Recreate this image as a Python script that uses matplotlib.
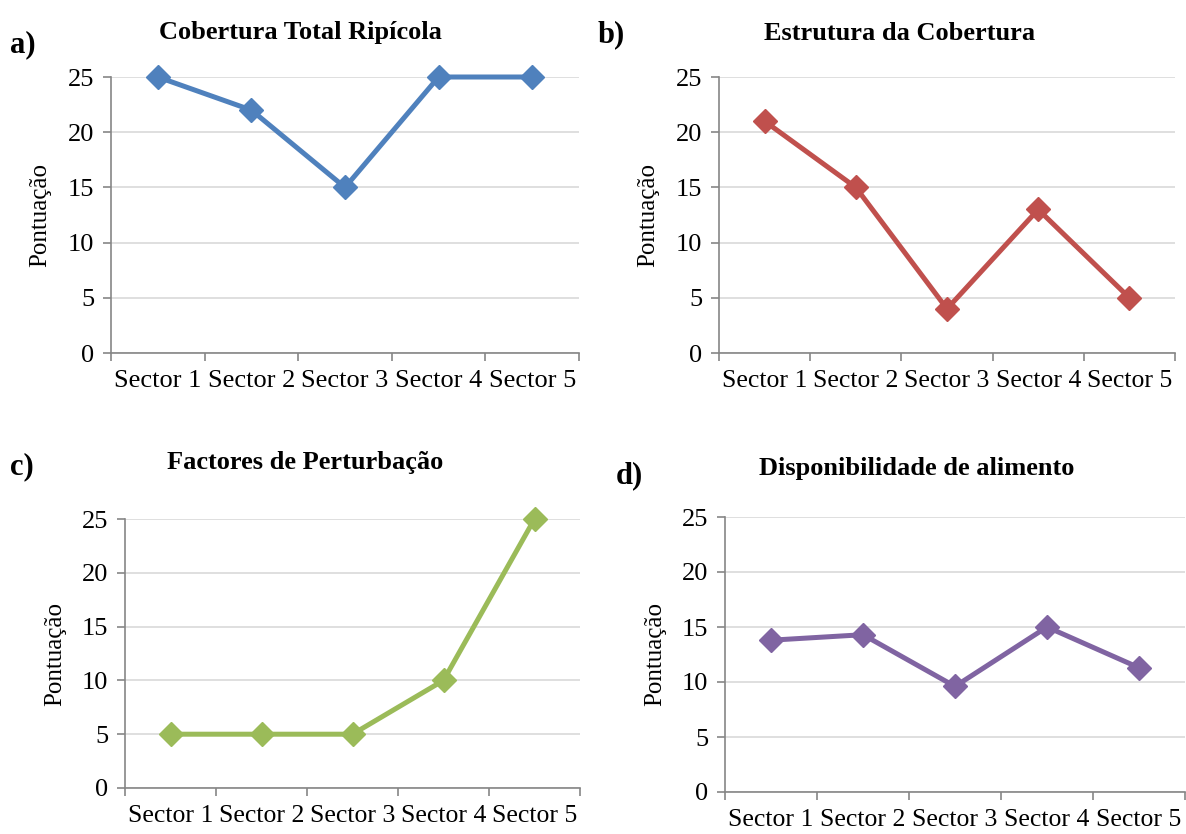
import matplotlib
matplotlib.use("Agg")
import matplotlib.pyplot as plt

plt.rcParams['font.family'] = ['Liberation Serif', 'DejaVu Serif']

# ------------------------------------------------------------------------
# data
sectors = ['Sector 1', 'Sector 2', 'Sector 3', 'Sector 4', 'Sector 5']

cobertura_total = [25, 22, 15, 25, 25]
estrutura = [21, 15, 4, 13, 5]
perturbacao = [5, 5, 5, 10, 25]
alimento = [13.8, 14.3, 9.6, 15.0, 11.3]

titles = ['Cobertura Total Ripícola', 'Estrutura da Cobertura',
          'Factores de Perturbação', 'Disponibilidade de alimento']
letters = ['a)', 'b)', 'c)', 'd)']
series = [cobertura_total, estrutura, perturbacao, alimento]
colors = ['#4F81BD', '#C0504D', '#9BBB59', '#8064A2']

# ------------------------------------------------------------------------
# layout in pixels: (left, right, top, bottom) of plot area
W, H = 1186, 834
boxes = [(111, 579, 77, 353), (719, 1175, 77, 353),
         (125, 580, 519, 788), (725, 1185, 517, 792)]
# title centre / y, letter x / y, ylabel x
title_pos = [(300, 33), (900, 33), (305, 463), (917, 469)]
letter_pos = [(10, 45), (598, 35), (10, 467), (616, 476)]
ylab_x = [40, 648, 55, 655]
xtick_size = [19, 18.5, 18.5, 18.5]

fig = plt.figure(figsize=(W / 100, H / 100), dpi=100)

for i in range(4):
    l, r, t, b = boxes[i]
    ax = fig.add_axes([l / W, 1 - b / H, (r - l) / W, (b - t) / H])
    x = [k + 0.5 for k in range(len(sectors))]
    ax.plot(x, series[i], color=colors[i], lw=3.6, marker='D', ms=12.5,
            zorder=3, clip_on=False)
    ax.set_xlim(0, 5)
    ax.set_ylim(0, 25)
    ax.set_yticks(range(0, 26, 5))
    ax.set_xticks(range(0, 6))
    ax.set_xticklabels([])
    ax.set_xticks(x, minor=True)
    ax.set_xticklabels(sectors, minor=True, fontsize=xtick_size[i])
    ax.tick_params(axis='x', which='minor', length=0, pad=12)
    ax.tick_params(axis='x', which='major', length=6, color='#868686',
                   width=1.2)
    ax.tick_params(axis='y', labelsize=19, length=6, color='#868686',
                   width=1.2, pad=6)
    ax.grid(axis='y', color='#D9D9D9', lw=1.2, zorder=0)
    ax.set_axisbelow(True)
    for s in ['top', 'right']:
        ax.spines[s].set_visible(False)
    for s in ['left', 'bottom']:
        ax.spines[s].set_color('#868686')
        ax.spines[s].set_linewidth(1.2)

    fig.text(ylab_x[i] / W, 1 - (t + b) / 2 / H, 'Pontuação', rotation=90,
             fontsize=18, ha='center', va='center')
    tx, ty = title_pos[i]
    fig.text(tx / W, 1 - ty / H, titles[i], fontsize=19, fontweight='bold',
             ha='center', va='center')
    lx, ly = letter_pos[i]
    fig.text(lx / W, 1 - ly / H, letters[i], fontsize=22, fontweight='bold',
             ha='left', va='center')

fig.savefig('out.png', dpi=100)
